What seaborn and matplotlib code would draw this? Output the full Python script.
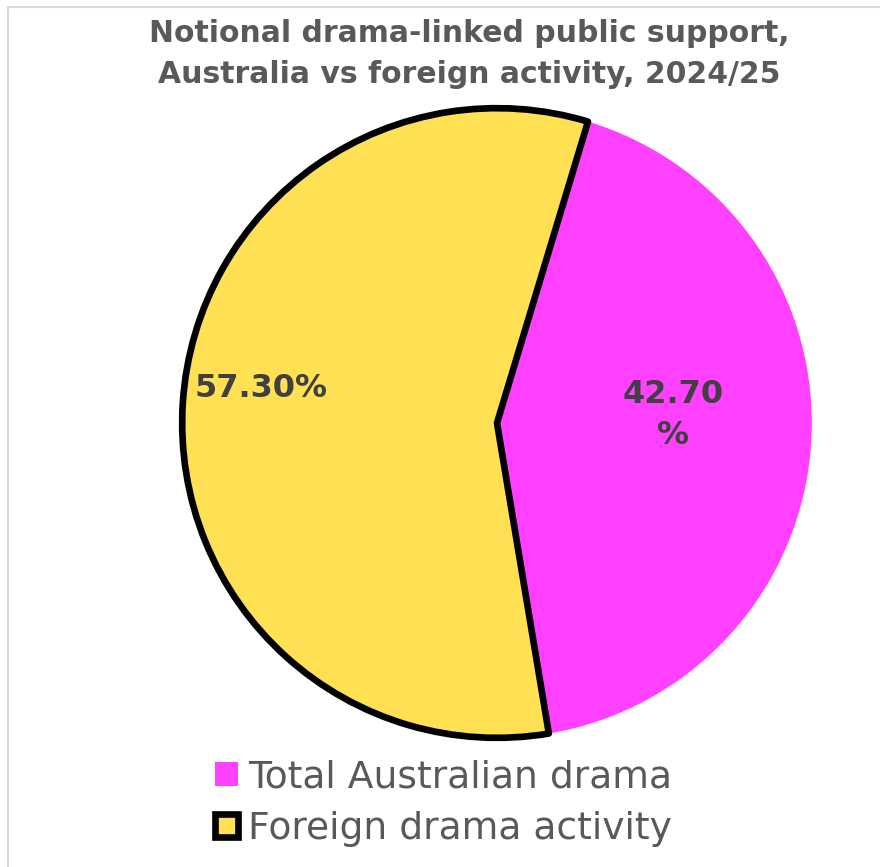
import matplotlib
matplotlib.use("Agg")
import matplotlib.pyplot as plt
import seaborn as sns
from matplotlib.patches import Rectangle

categories = ["Total Australian drama", "Foreign drama activity"]
values = [42.70, 57.30]
label_texts = ["42.70\n%", "57.30%"]
title = "Notional drama-linked public support,\nAustralia vs foreign activity, 2024/25"

sns.set_theme(style="white")
plt.rcParams['font.family'] = ['DejaVu Sans']
colors = sns.color_palette(["#FF40FF", "#FFE153"])

W, H = 880, 867
fig = plt.figure(figsize=(W / 100, H / 100), dpi=100)
fig.patch.set_facecolor("white")

# light chart border (top and left visible)
fig.patches.append(Rectangle((8 / W, -0.1), 1.2, 1.1 - 7 / H, transform=fig.transFigure,
                             fill=False, edgecolor="#D9D9D9", linewidth=1.5, zorder=0))

cx, cy, r = 497, 423, 318
ax = fig.add_axes([(cx - r) / W, (H - cy - r) / H, 2 * r / W, 2 * r / H])
wedges, _ = ax.pie(values, colors=colors, startangle=73.2, counterclock=False,
                   radius=0.99, wedgeprops=dict(linewidth=0))
wedges[1].set_edgecolor("black")
wedges[1].set_linewidth(4.8)
wedges[1].set_joinstyle("round")
wedges[1].set_zorder(3)
ax.set_xlim(-1, 1)
ax.set_ylim(-1, 1)
ax.set_aspect("equal")
ax.axis("off")

label_pos = [(0.553, 0.025), (-0.742, 0.11)]
for (x, y), t in zip(label_pos, label_texts):
    ax.text(x, y, t, ha="center", va="center", fontsize=23, fontweight="bold",
            color="#404040", linespacing=1.45, zorder=5)

fig.text(469 / W, 1 - 54 / H, title, ha="center", va="center", fontsize=21.5,
         fontweight="bold", color="#595959", linespacing=1.5)

leg = fig.legend(wedges, categories, loc="upper left",
                 bbox_to_anchor=(215 / W, 1 - 759 / H), bbox_transform=fig.transFigure,
                 frameon=False, fontsize=27.1, handlelength=0.6, handleheight=0.6,
                 handletextpad=0.28, labelspacing=0.42, borderaxespad=0,
                 borderpad=0)
for t in leg.get_texts():
    t.set_color("#595959")

fig.savefig("out.png", dpi=100, facecolor="white")
